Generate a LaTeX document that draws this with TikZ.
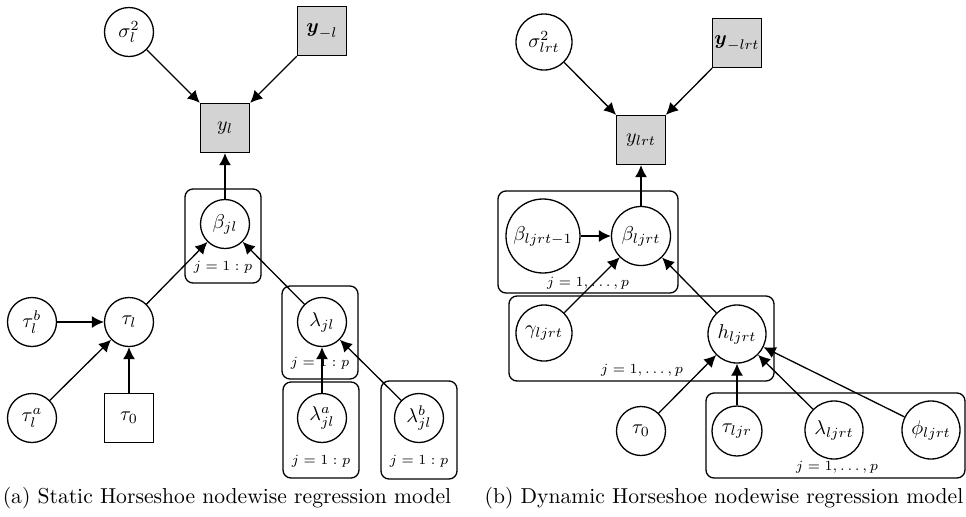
\documentclass[tikz,border=0pt]{standalone}
\usepackage{amsmath}
\usepackage{tikz}
\usetikzlibrary{arrows.meta}
\definecolor{observed}{HTML}{d3d3d3}
\tikzset{%
    >={Latex[length=6pt,width=6pt]},
    latent/.style={draw, circle, minimum size=24.5pt, inner sep=1pt},
    obs/.style={draw, rectangle, fill=observed, minimum size=24.5pt, inner sep=1pt},
    fixed/.style={draw, rectangle, minimum size=24.5pt, inner sep=1pt},
    plate/.style={rounded corners=4pt},
    platelabel/.style={font=\scriptsize, inner sep=0pt},
    caption/.style={font=\fontsize{10.8}{13}\selectfont, inner sep=0pt}
}

\begin{document}
\begin{tikzpicture}[x=0.5pt, y=-0.5pt, line width=0.65pt]
  \useasboundingbox (0,0) rectangle (966,516);

  \node[latent] (sig) at (129,32) {$\sigma_l^2$};
  \node[obs] (ym) at (322,31) {$\boldsymbol{y}_{-l}$};
  \node[obs] (y) at (225,128) {$y_l$};
  \node[latent] (beta) at (225,224) {$\beta_{jl}$};
  \node[latent] (taub) at (32,322) {$\tau_l^b$};
  \node[latent] (tau) at (129,322) {$\tau_l$};
  \node[latent] (taua) at (32,418) {$\tau_l^a$};
  \node[fixed] (tauz) at (129,418) {$\tau_0$};
  \node[latent] (lam) at (322,322) {$\lambda_{jl}$};
  \node[latent] (lama) at (322,418) {$\lambda_{jl}^a$};
  \node[latent] (lamb) at (419,418) {$\lambda_{jl}^b$};

  \draw[plate] (185,189) rectangle (261,283);
  \node[platelabel] at (223,267) {$j=1:p$};
  \draw[plate] (282,286) rectangle (358,379);
  \node[platelabel] at (320,363) {$j=1:p$};
  \draw[plate] (283,382) rectangle (359,478);
  \node[platelabel] at (321,461) {$j=1:p$};
  \draw[plate] (381,381) rectangle (457,479);
  \node[platelabel] at (419,461) {$j=1:p$};

  \draw[->] (sig) -- (y);
  \draw[->] (ym) -- (y);
  \draw[->] (beta) -- (y);
  \draw[->] (tau) -- (beta);
  \draw[->] (lam) -- (beta);
  \draw[->] (taub) -- (tau);
  \draw[->] (taua) -- (tau);
  \draw[->] (tauz) -- (tau);
  \draw[->] (lama) -- (lam);
  \draw[->] (lamb) -- (lam);

  \node[caption] (capa) at (227,498) {(a) Static Horseshoe nodewise regression model};

  \node[latent, minimum size=28pt] (dsig) at (544,42) {$\sigma_{lrt}^2$};
  \node[obs] (dym) at (737,43) {$\boldsymbol{y}_{-lrt}$};
  \node[obs] (dy) at (641,140) {$y_{lrt}$};
  \node[latent, minimum size=37pt] (dbetap) at (543,236) {$\beta_{ljrt-1}$};
  \node[latent, minimum size=29.5pt] (dbeta) at (641,236) {$\beta_{ljrt}$};
  \node[latent, minimum size=28pt] (dgam) at (544,333) {$\gamma_{ljrt}$};
  \node[latent, minimum size=29pt] (dh) at (737,334) {$h_{ljrt}$};
  \node[latent] (dtauz) at (641,431) {$\tau_0$};
  \node[latent, minimum size=25pt] (dtau) at (737,431) {$\tau_{ljr}$};
  \node[latent, minimum size=29pt] (dlam) at (834,430) {$\lambda_{ljrt}$};
  \node[latent, minimum size=29pt] (dphi) at (931,430) {$\phi_{ljrt}$};

  \draw[plate] (498,191) rectangle (678,293);
  \node[platelabel] at (588,283) {$j=1,\dots,p$};
  \draw[plate] (509,296) rectangle (774,381);
  \node[platelabel] at (642,370) {$j=1,\dots,p$};
  \draw[plate] (706,393) rectangle (965,478);
  \node[platelabel] at (837,467) {$j=1,\dots,p$};

  \draw[->] (dsig) -- (dy);
  \draw[->] (dym) -- (dy);
  \draw[->] (dbeta) -- (dy);
  \draw[->] (dbetap) -- (dbeta);
  \draw[->] (dgam) -- (dbeta);
  \draw[->] (dh) -- (dbeta);
  \draw[->] (dtauz) -- (dh);
  \draw[->] (dtau) -- (dh);
  \draw[->] (dlam) -- (dh);
  \draw[->] (dphi) -- (dh);

  \node[caption] (capb) at (724,498) {(b) Dynamic Horseshoe nodewise regression model};
\end{tikzpicture}
\end{document}
